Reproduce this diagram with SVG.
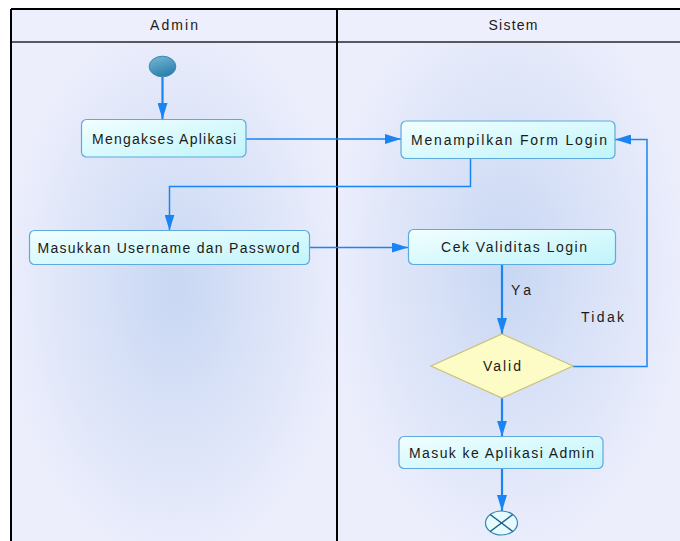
<svg xmlns="http://www.w3.org/2000/svg" width="680" height="541" viewBox="0 0 680 541">
<defs>
<style>
.lbl{font-family:"Liberation Sans",Arial,sans-serif;font-size:14px;fill:#1a1a1a;}
.node{stroke:#5fa9dc;stroke-width:1.2;fill:url(#nodeFill);}
.flow{fill:none;stroke:#1a84f2;stroke-width:1.5;}
.flowv{fill:none;stroke:#1a84f2;stroke-width:2.2;}
</style>
<linearGradient id="nodeFill" x1="0" y1="0" x2="1" y2="1">
<stop offset="0" stop-color="#f2feff"/>
<stop offset="1" stop-color="#bff5fb"/>
</linearGradient>
<linearGradient id="startFill" x1="0" y1="0" x2="0.4" y2="1">
<stop offset="0" stop-color="#78bad6"/>
<stop offset="1" stop-color="#2f80ad"/>
</linearGradient>
<radialGradient id="laneA" cx="175" cy="290" r="230" gradientUnits="userSpaceOnUse" gradientTransform="translate(175 290) scale(0.75 1.2) translate(-175 -290)">
<stop offset="0" stop-color="#c8d7f3"/>
<stop offset="1" stop-color="#eceefc"/>
</radialGradient>
<radialGradient id="laneB" cx="508" cy="270" r="240" gradientUnits="userSpaceOnUse" gradientTransform="translate(508 270) scale(0.75 1.2) translate(-508 -270)">
<stop offset="0" stop-color="#c8d7f3"/>
<stop offset="1" stop-color="#eceefc"/>
</radialGradient>
<marker id="arr" viewBox="0 0 16 10" refX="16" refY="5" markerWidth="16" markerHeight="10" markerUnits="userSpaceOnUse" orient="auto">
<path d="M0,0 L16,5 L0,10 Z" fill="#1a84f2"/>
</marker>
</defs>
<rect x="0" y="0" width="680" height="541" fill="#ffffff"/>
<g id="lanes">
<rect x="11" y="9" width="326" height="532" fill="url(#laneA)"/>
<rect x="337" y="9" width="343" height="532" fill="url(#laneB)"/>
<rect x="11" y="9" width="669" height="33" fill="#eeeffd"/>
<line x1="11" y1="42" x2="680" y2="42" stroke="#58595e" stroke-width="2"/>
<line x1="11" y1="9" x2="680" y2="9" stroke="#000" stroke-width="2"/>
<line x1="11" y1="9" x2="11" y2="541" stroke="#000" stroke-width="2"/>
<line x1="337" y1="9" x2="337" y2="541" stroke="#000" stroke-width="2"/>
<text class="lbl" x="174" y="30" text-anchor="middle" textLength="48" lengthAdjust="spacing">Admin</text>
<text class="lbl" x="513" y="30" text-anchor="middle" textLength="49" lengthAdjust="spacing">Sistem</text>
</g>
<g id="connectors">
<line class="flowv" x1="162.5" y1="77" x2="162.5" y2="119" marker-end="url(#arr)"/>
<line class="flow" x1="246" y1="139" x2="401" y2="139" marker-end="url(#arr)"/>
<polyline class="flow" points="470.5,158.5 470.5,186.5 169.5,186.5 169.5,230.5" marker-end="url(#arr)"/>
<line class="flow" x1="309.5" y1="247.5" x2="408" y2="247.5" marker-end="url(#arr)"/>
<line class="flowv" x1="502" y1="264.5" x2="502" y2="334" marker-end="url(#arr)"/>
<polyline class="flow" points="573,366.5 647,366.5 647,139.5 615,139.5" marker-end="url(#arr)"/>
<line class="flowv" x1="502" y1="398" x2="502" y2="436.5" marker-end="url(#arr)"/>
<line class="flowv" x1="502" y1="468.5" x2="502" y2="511" marker-end="url(#arr)"/>
<text class="lbl" x="511" y="295" textLength="20" lengthAdjust="spacing">Ya</text>
<text class="lbl" x="581" y="322" textLength="43" lengthAdjust="spacing">Tidak</text>
</g>
<g id="start">
<ellipse cx="162.5" cy="66.5" rx="13.3" ry="10.3" fill="url(#startFill)" stroke="#3a86b2" stroke-width="1"/>
</g>
<g id="mengakses">
<rect class="node" x="81.5" y="119.5" width="164.5" height="37.5" rx="5"/>
<text class="lbl" x="92" y="143.5" textLength="144" lengthAdjust="spacing">Mengakses Aplikasi</text>
</g>
<g id="menampilkan">
<rect class="node" x="401" y="121" width="214" height="37.5" rx="5"/>
<text class="lbl" x="411" y="144.5" textLength="196" lengthAdjust="spacing">Menampilkan Form Login</text>
</g>
<g id="masukkan">
<rect class="node" x="29.5" y="230.5" width="280" height="34" rx="5"/>
<text class="lbl" x="37.5" y="252.5" textLength="262" lengthAdjust="spacing">Masukkan Username dan Password</text>
</g>
<g id="cek">
<rect class="node" x="408.5" y="229.5" width="207" height="35" rx="5"/>
<text class="lbl" x="441" y="252" textLength="146" lengthAdjust="spacing">Cek Validitas Login</text>
</g>
<g id="valid">
<polygon points="502,334 573,366 502,398 431,366" fill="#fdfcc6" stroke="#c9c27a" stroke-width="1.2"/>
<text class="lbl" x="483" y="370.5" textLength="38" lengthAdjust="spacing">Valid</text>
</g>
<g id="masukke">
<rect class="node" x="399" y="436.5" width="204" height="32" rx="5"/>
<text class="lbl" x="409" y="457.5" textLength="185" lengthAdjust="spacing">Masuk ke Aplikasi Admin</text>
</g>
<g id="end">
<ellipse cx="501.5" cy="523" rx="16" ry="12" fill="#e6fbfe" stroke="#3a86b2" stroke-width="1.2"/>
<line x1="490.2" y1="514.5" x2="512.8" y2="531.5" stroke="#1f5f8a" stroke-width="1.5"/>
<line x1="512.8" y1="514.5" x2="490.2" y2="531.5" stroke="#1f5f8a" stroke-width="1.5"/>
</g>
</svg>
